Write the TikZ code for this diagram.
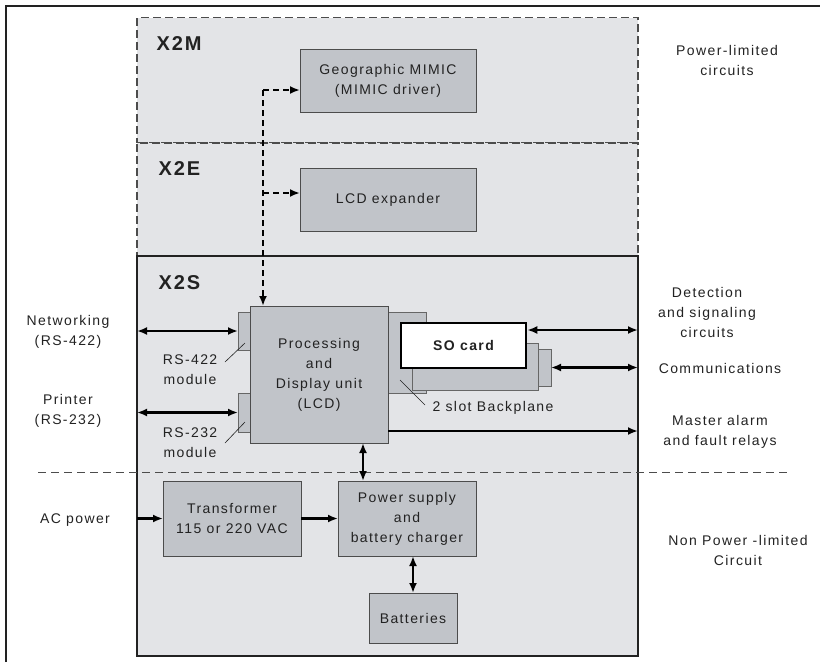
\documentclass[tikz,border=0pt]{standalone}
\usepackage{fontspec}
\setmainfont[LetterSpace=10]{Liberation Sans}
\usetikzlibrary{arrows.meta,calc}
\definecolor{zonegrey}{HTML}{E3E4E7}
\definecolor{unitgrey}{HTML}{C1C4C9}
\definecolor{inkgrey}{HTML}{222222}

\begin{document}
\begin{tikzpicture}[x=1pt,y=-1pt,
    font=\fontsize{14}{20}\selectfont, text=inkgrey,
    zone/.style={draw=inkgrey, fill=zonegrey, line width=1.2pt, inner sep=0pt, outer sep=0pt},
    dzone/.style={zone, dash pattern=on 8pt off 4pt, draw=black!70},
    unit/.style={draw=black!70, fill=unitgrey, line width=1pt, inner sep=0pt, outer sep=0pt, align=center},
    slot/.style={unit, draw=black!60},
    zonetitle/.style={anchor=west, font=\fontsize{20}{24}\selectfont\bfseries},
    lbl/.style={align=center},
    link/.style={line width=2.4pt, {Latex[length=10pt,width=8pt]}-{Latex[length=10pt,width=8pt]}},
    feed/.style={line width=2.4pt, -{Latex[length=10pt,width=8pt]}},
    bus/.style={feed, dash pattern=on 6pt off 4pt},
    leader/.style={line width=0.6pt, draw=inkgrey}]
    \useasboundingbox (0,0) rectangle (820,662);
    % outer frame
    \draw [line width=1.5pt, draw=inkgrey] (6,662) -- (6,6) -- (820,6);
    % cabinets
    \node [dzone, minimum width=501pt, minimum height=125.5pt] (x2m) at (387.5,80.25) {};
    \node [dzone, minimum width=501pt, minimum height=113pt] (x2e) at (387.5,199.5) {};
    \node [zone, minimum width=501pt, minimum height=400pt] (x2s) at (387.5,456) {};
    \node [zonetitle] (x2mt) at (153,44) {X2M};
    \node [zonetitle] (x2et) at (155,169) {X2E};
    \node [zonetitle] (x2st) at (155,283) {X2S};
    % power-limited border
    \draw [line width=0.8pt, draw=black!70, dash pattern=on 8pt off 5pt] (38,472) -- (787,472);
    % units
    \node [unit, minimum width=176pt, minimum height=63pt] (mimic) at (388,80.5) {Geographic MIMIC\\(MIMIC driver)};
    \node [unit, minimum width=176pt, minimum height=63pt] (lcdexp) at (388,199.5) {LCD expander};
    \node [slot, minimum width=38pt, minimum height=81pt] (slota) at (407,352.5) {};
    \node [slot, minimum width=13pt, minimum height=37pt] (slotc) at (544.5,367.5) {};
    \node [slot, minimum width=126pt, minimum height=47pt] (slotb) at (475,366.5) {};
    \node [draw=black, fill=white, line width=2.5pt, inner sep=0pt, minimum width=125pt, minimum height=45pt,
           font=\fontsize{14}{20}\selectfont\bfseries] (socard) at (463.5,345.5) {SO card};
    \node [slot, minimum width=12pt, minimum height=38pt] (rsa) at (244,331) {};
    \node [slot, minimum width=12pt, minimum height=39pt] (rsb) at (244,412.5) {};
    \node [unit, minimum width=138pt, minimum height=137pt] (pdu) at (319,374.5) {Processing\\and\\Display unit\\(LCD)};
    \node [unit, minimum width=138pt, minimum height=75pt] (trafo) at (232,518.5) {Transformer\\115 or 220 VAC};
    \node [unit, minimum width=138pt, minimum height=75pt] (psu) at (407,518.5) {Power supply\\and\\battery charger};
    \node [unit, minimum width=88pt, minimum height=50pt] (batt) at (413,618) {Batteries};
    % labels
    \node [lbl] (netlbl) at (68,332) {Networking\\(RS-422)};
    \node [lbl] (prtlbl) at (68,411) {Printer\\(RS-232)};
    \node [lbl] (aclbl) at (75,520) {AC power};
    \node [lbl] (rsalbl) at (190,370) {RS-422\\module};
    \node [lbl] (rsblbl) at (190,443) {RS-232\\module};
    \node [anchor=west] (bplbl) at (429,408) {2 slot Backplane};
    \node [lbl] (pllbl) at (727,60) {Power-limited\\circuits};
    \node [lbl] (detlbl) at (707,312) {Detection\\and signaling\\circuits};
    \node [lbl] (comlbl) at (720,368) {Communications};
    \node [lbl] (almlbl) at (720,432) {Master alarm\\and fault relays};
    \node [lbl] (nplbl) at (738,550) {Non Power -limited\\Circuit};
    % leader lines
    \draw [leader] (225,362) -- (245,343);
    \draw [leader] (225,443) -- (245,422);
    \draw [leader] (400,380) -- (425,405);
    % expansion bus
    \coordinate (tapm) at (263,90);
    \coordinate (tape) at (263,193);
    \draw [bus] (tapm) -- (tapm |- pdu.north);
    \draw [bus] (tapm) -- (tapm -| mimic.west);
    \draw [bus] (tape) -- (tape -| lcdexp.west);
    % field connections
    \draw [link] (rsa.west -| x2s.west) -- (rsa.west);
    \draw [link] (rsb.west -| x2s.west) -- (rsb.west);
    \coordinate (detr) at (638,330);
    \coordinate (almr) at (638,431);
    \draw [link] (detr -| socard.east) -- (detr);
    \draw [link] (slotc.east) -- (slotc.east -| x2s.east);
    \draw [feed] (almr -| pdu.east) -- (almr);
    % power
    \draw [feed] (trafo.west -| x2s.west) -- (trafo.west);
    \draw [feed] (trafo.east) -- (psu.west);
    \draw [link] ([xshift=44pt]pdu.south) -- ([xshift=44pt]pdu.south |- psu.north);
    \draw [link] (batt.north) -- (batt.north |- psu.south);
\end{tikzpicture}
\end{document}
